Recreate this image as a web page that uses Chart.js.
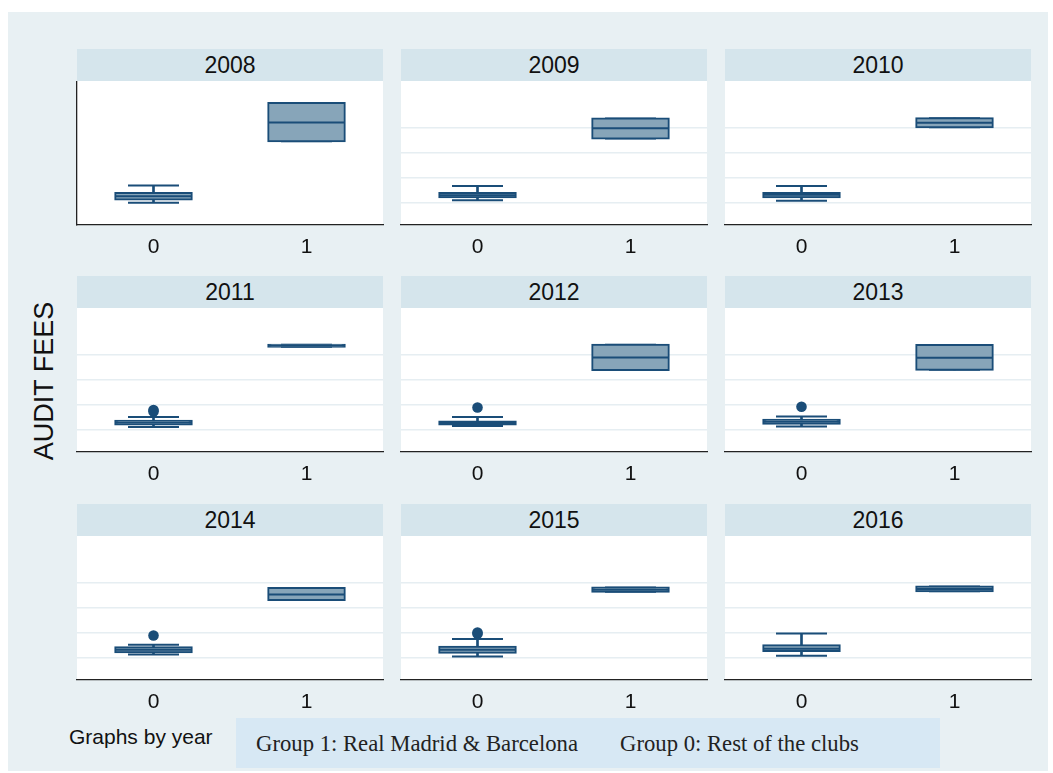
<!DOCTYPE html>
<html>
<head>
<meta charset="utf-8">
<script src="https://cdn.jsdelivr.net/npm/chart.js@4"></script>
<style>
  html, body { margin: 0; padding: 0; background: #ffffff; }
  body { width: 1053px; height: 773px; position: relative; overflow: hidden; font-family: "Liberation Sans", Arial, sans-serif; }
  #bg { position: absolute; left: 8px; top: 12px; width: 1040px; height: 759px; background: #e8f0f3; }
  .strip { position: absolute; height: 32px; width: 306px; background: #d5e5ec; color: #111; font-size: 23px;
           display: flex; align-items: center; justify-content: center; }
  canvas.panel { position: absolute; }
  #ytitle { position: absolute; left: 44px; top: 381px; transform: translate(-50%, -50%) rotate(-90deg);
            font-size: 27px; color: #111; white-space: nowrap; }
  #byyear { position: absolute; left: 69px; top: 726px; font-size: 21px; line-height: 21px; color: #111; white-space: nowrap; }
  #note { position: absolute; left: 236px; top: 718px; width: 704px; height: 50px; background: #d7e8f4; }
  .notetxt { position: absolute; top: 15px; font-family: "Liberation Serif", "Times New Roman", serif; font-size: 22.7px;
             line-height: 22.7px; color: #222; white-space: nowrap; }
</style>
</head>
<body>
<div id="bg"></div>
<div id="panels"></div>
<div id="ytitle">AUDIT FEES</div>
<div id="byyear">Graphs by year</div>
<div id="note">
  <span class="notetxt" style="left:20px">Group 1: Real Madrid &amp; Barcelona</span>
  <span class="notetxt" style="left:384px">Group 0: Rest of the clubs</span>
</div>
<script>
// ---- data (y in grid-step units) ----
const years  = ['2008','2009','2010','2011','2012','2013','2014','2015','2016'];
const groups = ['0','1'];
const gridTicks = [0, 1, 2, 3];

// Group 0: rest of the clubs
const g0Low  = [0.02, 0.11, 0.10, 0.12, 0.16, 0.14, 0.14, 0.07, 0.10];
const g0Q1   = [0.14, 0.23, 0.23, 0.22, 0.22, 0.25, 0.23, 0.21, 0.28];
const g0Med  = [0.27, 0.31, 0.33, 0.29, 0.28, 0.33, 0.33, 0.33, 0.37];
const g0Q3   = [0.40, 0.40, 0.40, 0.37, 0.34, 0.41, 0.43, 0.45, 0.51];
const g0High = [0.70, 0.68, 0.68, 0.52, 0.52, 0.54, 0.53, 0.76, 0.98];
const g0Out  = [[], [], [], [0.74, 0.80], [0.90], [0.93], [0.90], [0.97, 1.02], []];

// Group 1: Real Madrid & Barcelona
const g1Low  = [2.46, 2.57, 3.02, 3.32, 2.39, 2.40, 2.31, 2.64, 2.66];
const g1Q1   = [2.46, 2.57, 3.02, 3.32, 2.39, 2.40, 2.31, 2.64, 2.66];
const g1Med  = [3.21, 2.98, 3.20, 3.36, 2.89, 2.88, 2.53, 2.72, 2.75];
const g1Q3   = [3.98, 3.37, 3.38, 3.40, 3.40, 3.39, 2.79, 2.81, 2.85];
const g1High = [3.98, 3.37, 3.38, 3.40, 3.40, 3.39, 2.79, 2.81, 2.85];

// ---- style / layout ----
const NAVY = '#1a4d78';
const FILL = '#87a5b9';
const GRID = '#e6eef2';
const rowTops = [49, 276, 504];
const colLefts = [77, 401, 725];
const PLOT_W = 306, STRIP_H = 32, CANVAS_H = 180, AXIS_H = 36.5;

const whiteArea = {
  id: 'whiteArea',
  beforeDraw(chart) {
    const a = chart.chartArea, ctx = chart.ctx;
    ctx.save();
    ctx.fillStyle = '#ffffff';
    ctx.fillRect(a.left, a.top, a.right - a.left, a.bottom - a.top);
    ctx.restore();
  }
};

const panels = document.getElementById('panels');

years.forEach((yr, i) => {
  const r = Math.floor(i / 3), c = i % 3;
  const strip = document.createElement('div');
  strip.className = 'strip';
  strip.style.left = colLefts[c] + 'px';
  strip.style.top = rowTops[r] + 'px';
  strip.textContent = yr;
  panels.appendChild(strip);

  const cv = document.createElement('canvas');
  cv.className = 'panel';
  cv.width = PLOT_W + 8;
  cv.height = CANVAS_H;
  cv.style.left = (colLefts[c] - 4) + 'px';
  cv.style.top = (rowTops[r] + STRIP_H) + 'px';
  cv.style.width = (PLOT_W + 8) + 'px';
  cv.style.height = CANVAS_H + 'px';
  panels.appendChild(cv);

  const first = (i === 0);
  new Chart(cv, {
    type: 'bar',
    plugins: [whiteArea],
    data: {
      labels: groups,
      datasets: [
        { type: 'scatter', order: 0, data: g0Out[i].map(v => ({ x: '0', y: v })),
          pointStyle: 'circle', pointRadius: 5.3, backgroundColor: NAVY, borderColor: NAVY, borderWidth: 0 },
        { type: 'scatter', order: 1,
          data: [{ x: '0', y: g0Med[i] }, { x: '1', y: g1Med[i] }],
          pointStyle: 'line', pointRadius: 38, borderColor: NAVY, borderWidth: 2 },
        { type: 'bar', order: 2,
          data: [[g0Q1[i], g0Q3[i]], [g1Q1[i], g1Q3[i]]],
          backgroundColor: FILL, borderColor: NAVY, borderWidth: 2, borderSkipped: false,
          inflateAmount: 1, barPercentage: 0.5, categoryPercentage: 1 },
        { type: 'scatter', order: 3,
          data: [{ x: '0', y: g0High[i] }, { x: '0', y: g0Low[i] }, { x: '1', y: g1High[i] }, { x: '1', y: g1Low[i] }],
          pointStyle: 'line', pointRadius: 25.5, borderColor: NAVY, borderWidth: 2 },
        { type: 'bar', order: 4,
          data: [[g0Q3[i], g0High[i]], [g1Q3[i], g1High[i]]],
          backgroundColor: NAVY, borderWidth: 0, barThickness: 2 },
        { type: 'bar', order: 5,
          data: [[g0Low[i], g0Q1[i]], [g1Low[i], g1Q1[i]]],
          backgroundColor: NAVY, borderWidth: 0, barThickness: 2 }
      ]
    },
    options: {
      responsive: false,
      animation: false,
      devicePixelRatio: 1,
      events: [],
      layout: { autoPadding: false, padding: { left: 4, right: 4, top: 0, bottom: 0 } },
      datasets: { bar: { grouped: false } },
      plugins: { legend: { display: false }, tooltip: { enabled: false }, title: { display: false } },
      scales: {
        x: {
          type: 'category',
          offset: true,
          grid: { display: false, drawTicks: false },
          border: { display: true, color: '#222', width: 1.3 },
          ticks: { color: '#111', padding: 10, font: { family: "'Liberation Sans', Arial, sans-serif", size: 21 } },
          afterFit: s => { s.height = AXIS_H; }
        },
        y: {
          type: 'linear',
          min: -0.85, max: 4.86,
          afterBuildTicks: s => { s.ticks = gridTicks.map(v => ({ value: v })); },
          grid: { display: !first, color: GRID, lineWidth: 1.5, drawTicks: false },
          border: { display: first, color: '#222', width: 1.3 },
          ticks: { display: false }
        }
      }
    }
  });
});
</script>
</body>
</html>
